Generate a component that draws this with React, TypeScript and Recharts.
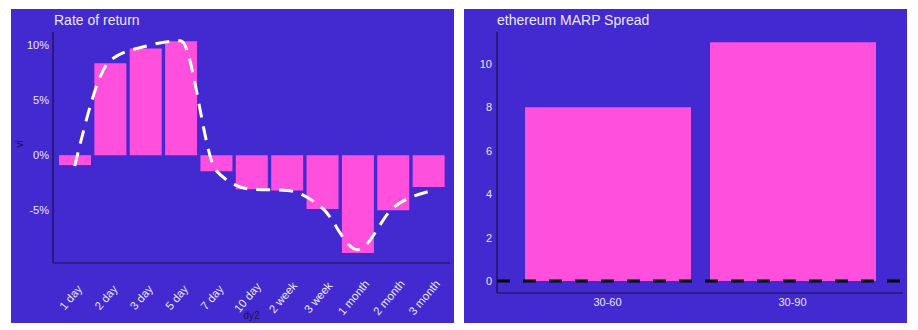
import { Bar, ComposedChart, Line, ReferenceLine, XAxis, YAxis, Label } from 'recharts'

const horizons = ['1 day', '2 day', '3 day', '5 day', '7 day', '10 day', '2 week', '3 week', '1 month', '2 month', '3 month']
const returns = [-0.9, 8.35, 9.7, 10.35, -1.45, -3.1, -3.2, -4.9, -8.9, -5.0, -2.9]
const smoothed = [-1.0, 8.6, 9.9, 10.4, -1.4, -3.1, -3.2, -4.8, -8.6, -4.8, -3.3]
const returnTicks = [-5, 0, 5, 10]

const spreads = ['30-60', '30-90']
const spreadValues = [8.0, 11.0]
const spreadTicks = [0, 2, 4, 6, 8, 10]

const BG = '#4329d0'
const PINK = '#ff50dd'
const TEXT = '#ebe8f7'
const AXIS = '#1a1045'
const FONT = '"Liberation Sans", Arial, sans-serif'

const returnData = horizons.map((h, i) => ({ dy2: h, vi: returns[i], smooth: smoothed[i] }))
const spreadData = spreads.map((s, i) => ({ window: s, spread: spreadValues[i] }))

// labels are centred on the tick and turned ~50deg, like ggplot's angle + hjust .5
// (recharts hands us y already 8px below the axis line)
function AngledTick({ x, y, payload }: any) {
  const ax = x - 1
  const ay = y + 29
  return (
    <text x={ax} y={ay} transform={`rotate(-50, ${ax}, ${ay})`} textAnchor="middle" fill={TEXT} fontSize={11.5} fontFamily={FONT}>
      {payload.value}
    </text>
  )
}

export default function App() {
  return (
    <div style={{ position: 'absolute', left: 0, top: 0, width: 918, height: 330, background: '#fff', fontFamily: FONT }}>
      {/* Rate of return */}
      <div style={{ position: 'absolute', left: 11, top: 9, width: 443, height: 314, background: BG }}>
        <div style={{ position: 'absolute', left: 43, top: 3, color: TEXT, fontSize: 14 }}>Rate of return</div>
        <ComposedChart width={443} height={314} data={returnData} margin={{ top: 23, right: 4, bottom: 0, left: 0 }}>
          <XAxis
            dataKey="dy2"
            height={60}
            padding={{ left: 4, right: 4 }}
            tick={<AngledTick />}
            tickLine={false}
            interval={0}
            axisLine={{ stroke: AXIS, strokeWidth: 1.2 }}
          >
            <Label value="dy2" position="insideBottom" offset={4} fill={AXIS} fontSize={10} fontFamily={FONT} />
          </XAxis>
          <YAxis
            width={42}
            domain={[-9.8, 11.2]}
            ticks={returnTicks}
            tickFormatter={(v: number) => `${v}%`}
            tickSize={0}
            tickMargin={4}
            tickLine={false}
            axisLine={{ stroke: AXIS, strokeWidth: 1.2 }}
            tick={{ fill: TEXT, fontSize: 11, fontFamily: FONT }}
          >
            <Label value="vi" angle={-90} position="insideLeft" offset={8} fill={AXIS} fontSize={10} fontFamily={FONT} />
          </YAxis>
          <Bar dataKey="vi" fill={PINK} barSize={32} isAnimationActive={false} />
          <Line type="monotone" dataKey="smooth" stroke="#ffffff" strokeWidth={3} strokeDasharray="14 9" dot={false} isAnimationActive={false} />
        </ComposedChart>
      </div>

      {/* ethereum MARP Spread */}
      <div style={{ position: 'absolute', left: 464, top: 9, width: 443, height: 314, background: BG }}>
        <div style={{ position: 'absolute', left: 33, top: 3, color: TEXT, fontSize: 14 }}>ethereum MARP Spread</div>
        <ComposedChart width={443} height={314} data={spreadData} margin={{ top: 23, right: 4, bottom: 0, left: 0 }}>
          <XAxis
            dataKey="window"
            height={30}
            padding={{ left: 18, right: 18 }}
            tickLine={false}
            tickSize={0}
            tickMargin={5}
            axisLine={{ stroke: AXIS, strokeWidth: 1.2 }}
            tick={{ fill: TEXT, fontSize: 11, fontFamily: FONT }}
          />
          <YAxis
            width={33}
            domain={[-0.55, 11.47]}
            ticks={spreadTicks}
            tickSize={0}
            tickMargin={5}
            tickLine={false}
            axisLine={{ stroke: AXIS, strokeWidth: 1.2 }}
            tick={{ fill: TEXT, fontSize: 11, fontFamily: FONT }}
          />
          <Bar dataKey="spread" fill={PINK} barSize={166} isAnimationActive={false} />
          <ReferenceLine y={0} stroke="#000000" strokeWidth={3} strokeDasharray="13 13" />
        </ComposedChart>
      </div>
    </div>
  )
}
